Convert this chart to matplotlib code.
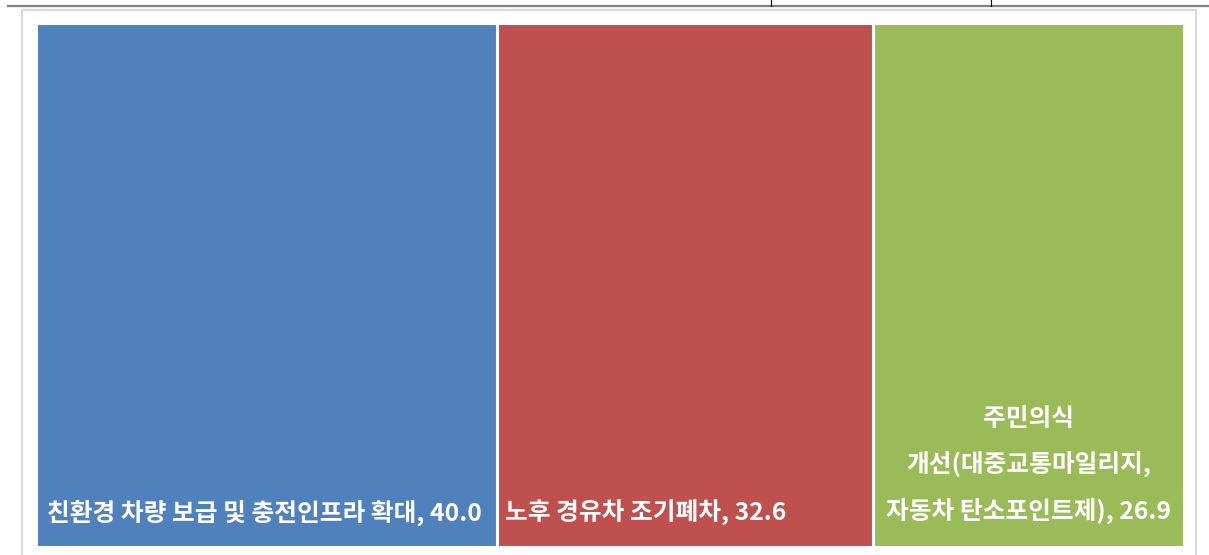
import matplotlib
matplotlib.use("Agg")
import matplotlib.pyplot as plt
from matplotlib.lines import Line2D
from matplotlib.patches import Rectangle
import numpy as np

plt.rcParams['font.family'] = ['Noto Sans CJK KR', 'DejaVu Sans']

# === DATA ===
categories = ["친환경 차량 보급 및 충전인프라 확대", "노후 경유차 조기폐차",
              "주민의식\n개선(대중교통마일리지,\n자동차 탄소포인트제)"]
values = [40.0, 32.6, 26.9]
colors = ["#4F81BD", "#C0504D", "#9BBB59"]

W, H = 1209, 555
fig = plt.figure(figsize=(W / 100, H / 100), dpi=100)

# page decorations: table line on top, light frame round the chart
fig.add_artist(Line2D([8 / W, 1], [1 - 5.5 / H, 1 - 5.5 / H], color="#808080", lw=1.6))
for xv in [771, 991]:
    fig.add_artist(Line2D([xv / W, xv / W], [1, 1 - 6 / H], color="black", lw=0.8))
fig.add_artist(Rectangle((22 / W, -0.05), (1196 - 22) / W, 1.05 - 10 / H,
                         fill=False, edgecolor="#D9D9D9", lw=1.5))

# treemap area (single row)
left, right, top, bottom = 35.5, 1183.5, 22.5, 546.5
ax = fig.add_axes([left / W, 1 - bottom / H, (right - left) / W, (bottom - top) / H])
ax.set_xlim(0, sum(values))
ax.set_ylim(0, 1)
ax.axis("off")

starts = np.concatenate([[0], np.cumsum(values)[:-1]])
ax.bar(starts, 1, width=values, align="edge", color=colors,
       edgecolor="white", linewidth=2.2)

# labels
lab_kw = dict(color="white", fontsize=17.8, fontweight="bold")
ax.annotate(f"{categories[0]}, {values[0]:.1f}", xy=(starts[0], 0), xytext=(8, 24),
            textcoords="offset points", ha="left", va="center", **lab_kw)
ax.annotate(f"{categories[1]}, {values[1]:.1f}", xy=(starts[1], 0), xytext=(5.5, 24),
            textcoords="offset points", ha="left", va="center", **lab_kw)
ax.annotate(f"{categories[2]}, {values[2]:.1f}", xy=(starts[2] + values[2] / 2, 0),
            xytext=(0, 19), textcoords="offset points", ha="center", va="baseline",
            linespacing=2.0, **lab_kw)

fig.savefig("out.png", dpi=100)
